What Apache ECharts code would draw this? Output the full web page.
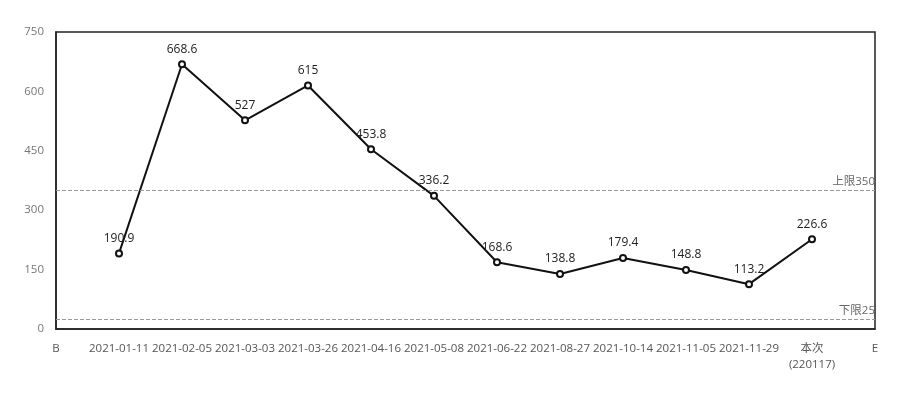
<!DOCTYPE html>
<html>
<head>
<meta charset="utf-8">
<script src="https://cdn.jsdelivr.net/npm/echarts@6/dist/echarts.min.js"></script>
<style>
  html, body { margin: 0; padding: 0; background: #fff; }
  #chart { width: 906px; height: 410px; }
</style>
</head>
<body>
<div id="chart"></div>
<script>
const categories = ['B', '2021-01-11', '2021-02-05', '2021-03-03', '2021-03-26', '2021-04-16',
  '2021-05-08', '2021-06-22', '2021-08-27', '2021-10-14', '2021-11-05', '2021-11-29',
  '本次\n(220117)', 'E']
const values = ['-', 190.9, 668.6, 527, 615, 453.8, 336.2, 168.6, 138.8, 179.4, 148.8, 113.2, 226.6, '-']
const upperLimit = 350
const lowerLimit = 25

const chart = echarts.init(document.getElementById('chart'))
chart.setOption({
  animation: false,
  textStyle: { fontFamily: '"Open Sans", "Noto Sans CJK SC", sans-serif' },
  grid: {
    left: 56,
    right: 31,
    top: 32,
    bottom: 81,
    show: true,
    borderColor: '#222',
    borderWidth: 1.5
  },
  xAxis: {
    type: 'category',
    data: categories,
    boundaryGap: false,
    axisLine: { lineStyle: { color: '#222', width: 1.5 } },
    axisTick: { show: false },
    axisLabel: { color: '#555', fontSize: 11.5, margin: 12, interval: 0, lineHeight: 16 }
  },
  yAxis: {
    type: 'value',
    min: 0,
    max: 750,
    interval: 150,
    axisLine: { show: true, lineStyle: { color: '#222', width: 1.5 } },
    axisTick: { show: false },
    splitLine: { show: false },
    axisLabel: { color: '#777', fontSize: 11.5, margin: 12 }
  },
  series: [{
    type: 'line',
    data: values,
    symbol: 'emptyCircle',
    symbolSize: 6,
    lineStyle: { color: '#111', width: 2 },
    itemStyle: { color: '#111', borderWidth: 1.5 },
    label: { show: true, position: 'top', color: '#222', fontSize: 12, distance: 5 },
    markLine: {
      silent: true,
      symbol: 'none',
      lineStyle: { color: '#999', type: 'dashed', width: 1 },
      label: { position: 'insideEndTop', color: '#666', fontSize: 11.5, distance: [0, 3] },
      data: [
        { yAxis: upperLimit, label: { formatter: '上限' + upperLimit } },
        { yAxis: lowerLimit, label: { formatter: '下限' + lowerLimit } }
      ]
    }
  }]
})
</script>
</body>
</html>
